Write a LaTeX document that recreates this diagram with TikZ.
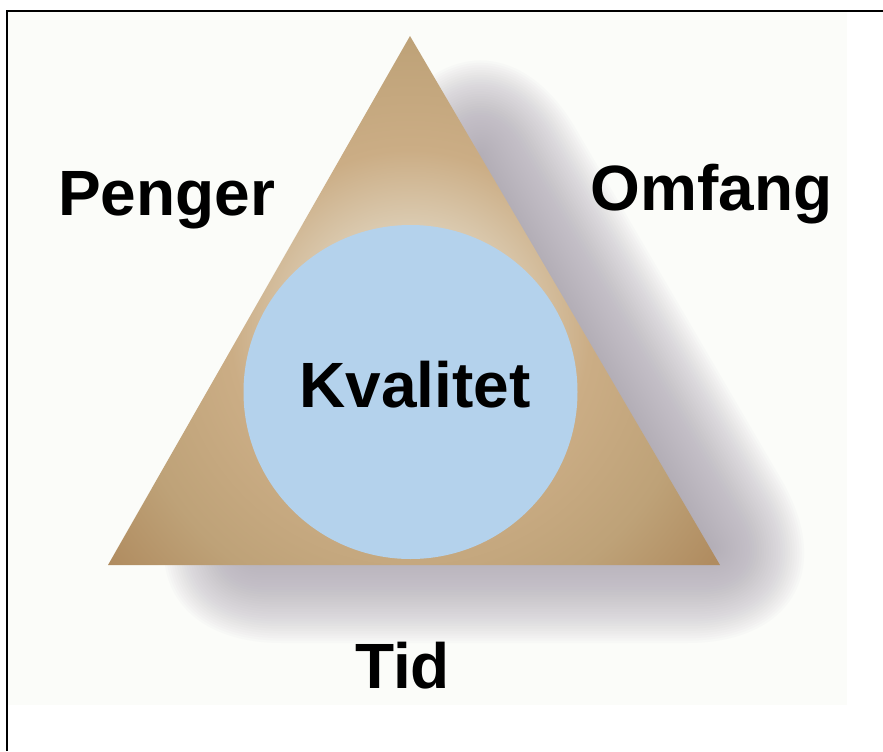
\documentclass[tikz,border=0pt]{standalone}
\usepackage{fontspec}
\setmainfont{Liberation Sans}
\definecolor{bgc}{RGB}{251,252,249}
\definecolor{circc}{RGB}{180,210,236}
\definecolor{shc}{RGB}{172,165,178}
\definecolor{tza}{RGB}{226,214,194}
\definecolor{tzb}{RGB}{220,205,180}
\definecolor{tzc}{RGB}{203,173,133}
\definecolor{tzd}{RGB}{190,162,120}
\definecolor{tze}{RGB}{176,140,96}
\pgfdeclareradialshading{trishade}{\pgfpoint{0bp}{0bp}}{color(0bp)=(tza); color(6.25bp)=(tzb); color(11.25bp)=(tzc); color(18.1bp)=(tzd); color(23.75bp)=(tze); color(25bp)=(tze); color(50bp)=(tze)}
\begin{document}
\begin{tikzpicture}[x=0.75pt,y=-0.75pt,
  lbl/.style={font=\fontsize{48}{48}\selectfont\bfseries, inner sep=0pt, anchor=base}]
\useasboundingbox (0,0) rectangle (883,751);
\fill[white] (0,0) rectangle (883,751);
\fill[bgc] (8,12) rectangle (847,705);
% blurred shadow
\foreach \i in {0,...,39}{
  \pgfmathsetmacro{\d}{-45+\i*95/39}
  \pgfmathsetmacro{\k}{(176.5+\d)/176.5}
  \pgfmathsetmacro{\rc}{max(2.0*(\d+45),0.01)*0.75}
  \fill[shc, opacity=0.04, rounded corners=\rc pt]
    ({482-304*\k},{416.5+176.5*\k}) -- ({482+308*\k},{416.5+176.5*\k}) -- ({482-2*\k},{416.5-352.5*\k}) -- cycle;
}
% triangle
\coordinate (A) at (108,565);
\coordinate (B) at (720,565);
\coordinate (C) at (410,36);
\begin{scope}
  \clip (A) -- (B) -- (C) -- cycle;
  \shade[shading=trishade] (410,330) circle[radius=400];
\end{scope}
% circle
\node[circle, fill=circc, minimum size=250.5pt, inner sep=0pt] (q) at (410.5,392) {};
% labels
\node[lbl] (kv) at (415,407) {Kvalitet};
\node[lbl] (pe) at (166.5,215) {Penger};
\node[lbl] (om) at (711.5,210) {Omfang};
\node[lbl] (ti) at (402.5,688) {Tid};
% frame
\coordinate (fb) at (7,751);
\coordinate (fc) at (7,11);
\coordinate (fr) at (883,11);
\draw[line width=2.2pt] (fb) -- (fc) -- (fr);
\end{tikzpicture}
\end{document}
